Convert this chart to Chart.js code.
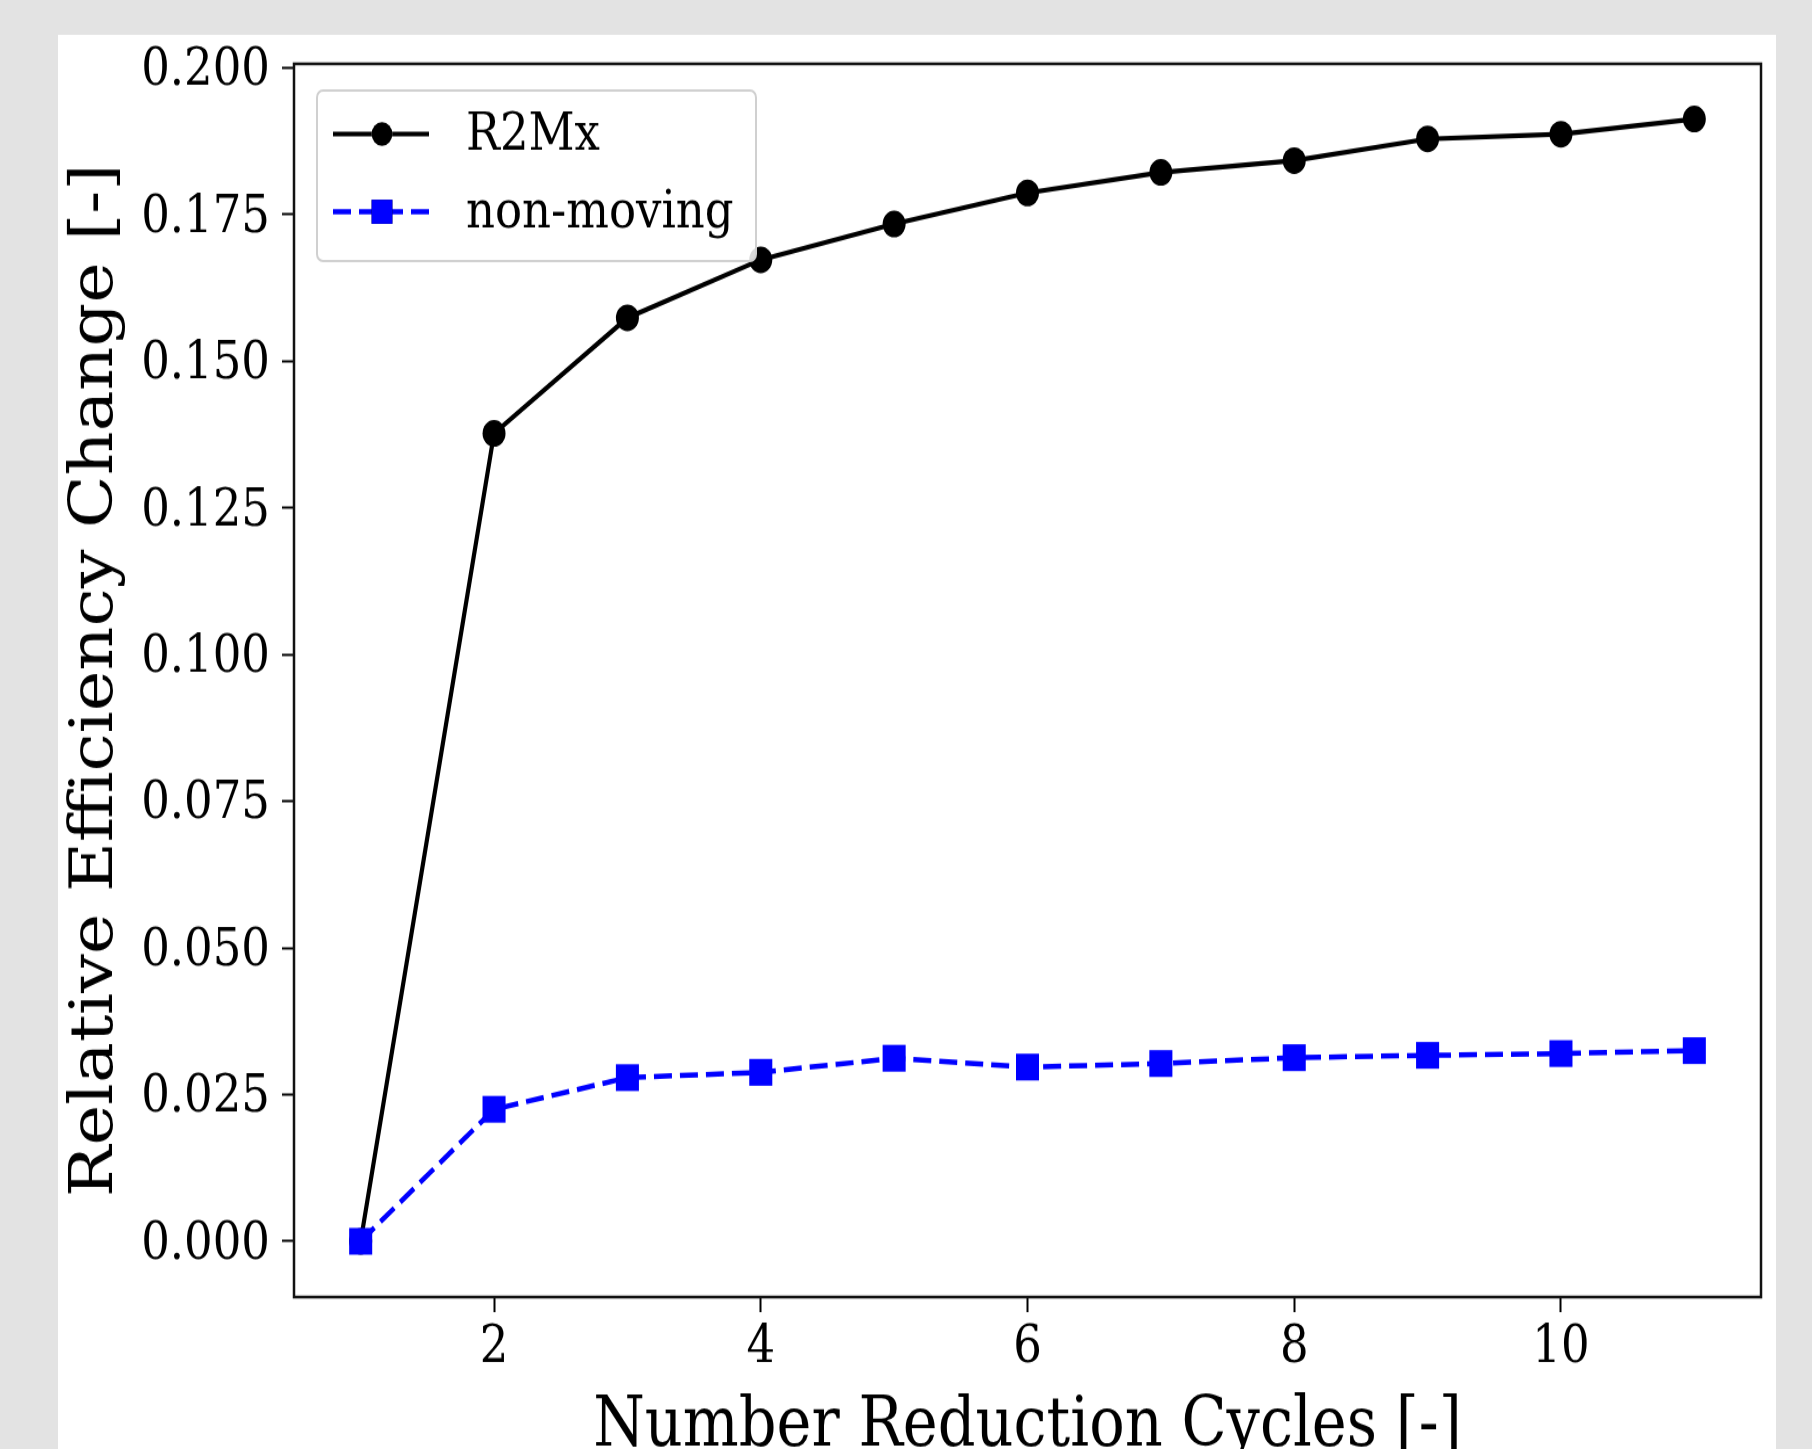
<!DOCTYPE html>
<html>
<head>
<meta charset="utf-8">
<title>Relative Efficiency Change</title>
<script src="https://cdn.jsdelivr.net/npm/chart.js@4.4.0/dist/chart.umd.min.js"></script>
<style>
  html, body { margin: 0; padding: 0; background: #e3e3e3; overflow: hidden; }
  #wrap { width: 1812px; height: 1449px; }
  /* the reference figure is stretched vertically: draw at 1249 px, show at 1449 px */
  #myChart { width: 1812px; height: 1449px; display: block; }
</style>
</head>
<body>
<div id="wrap"><canvas id="myChart" width="1812" height="1249" style="width:1812px;height:1449px"></canvas></div>
<script>

// data
var cycles = [1, 2, 3, 4, 5, 6, 7, 8, 9, 10, 11];
var r2mx = [0.0, 0.1377, 0.1574, 0.1673, 0.1734, 0.1787, 0.1822, 0.1842, 0.1879, 0.1887, 0.1913];
var nonMoving = [0.0, 0.0225, 0.0279, 0.0288, 0.0312, 0.0297, 0.0303, 0.0313, 0.0317, 0.0320, 0.0325];
var xTicks = [2, 4, 6, 8, 10];
var yTicks = [0, 0.025, 0.05, 0.075, 0.1, 0.125, 0.15, 0.175, 0.2];

var FONT = "'DejaVu Serif', serif";

function toPoints(xs, ys) {
    var pts = [];
    for (var i = 0; i < xs.length; i++) {
        pts.push({ x: xs[i], y: ys[i] });
    }
    return pts;
}

// grey page + white figure
var backgroundPlugin = {
    id: 'figBg',
    beforeDraw: function(chart) {
        var ctx = chart.ctx;
        ctx.save();
        ctx.fillStyle = '#e3e3e3';
        ctx.fillRect(0, 0, chart.width, chart.height);
        ctx.fillStyle = '#ffffff';
        ctx.fillRect(58, 30, 1718, chart.height - 30);
        ctx.restore();
    }
};

// box round the axes, then the legend on top
var framePlugin = {
    id: 'frameLegend',
    afterDatasetsDraw: function(chart) {
        var ctx = chart.ctx;
        var a = chart.chartArea;
        ctx.save();
        ctx.strokeStyle = '#111';
        ctx.lineWidth = 2.5;
        ctx.strokeRect(a.left, a.top, a.right - a.left, a.bottom - a.top);

        // legend box
        var bx = 317, by = 78, bw = 439, bh = 147, r = 6;
        ctx.beginPath();
        ctx.moveTo(bx + r, by);
        ctx.arcTo(bx + bw, by, bx + bw, by + bh, r);
        ctx.arcTo(bx + bw, by + bh, bx, by + bh, r);
        ctx.arcTo(bx, by + bh, bx, by, r);
        ctx.arcTo(bx, by, bx + bw, by, r);
        ctx.closePath();
        ctx.fillStyle = 'rgba(255,255,255,0.85)';
        ctx.fill();
        ctx.strokeStyle = '#d0d0d0';
        ctx.lineWidth = 2;
        ctx.stroke();

        var rows = [115.5, 182.5];
        chart.data.datasets.forEach(function(ds, i) {
            var y = rows[i];
            ctx.strokeStyle = ds.borderColor;
            ctx.lineWidth = ds.borderWidth;
            ctx.setLineDash(ds.borderDash || []);
            ctx.beginPath();
            ctx.moveTo(333, y);
            ctx.lineTo(429, y);
            ctx.stroke();
            ctx.setLineDash([]);
            Chart.helpers.drawPoint(ctx, {
                pointStyle: ds.pointStyle,
                radius: ds.pointRadius * 0.9,
                borderWidth: 0
            }, 382, y);
            ctx.fillStyle = ds.pointBackgroundColor;
            ctx.fill();

            ctx.fillStyle = '#000';
            ctx.font = '45px ' + FONT;
            ctx.textBaseline = 'middle';
            ctx.textAlign = 'left';
            ctx.fillText(ds.label, 466, y + 2);
        });
        ctx.restore();
    }
};

var ctx = document.getElementById('myChart').getContext('2d');

var chart = new Chart(ctx, {
    type: 'line',
    data: {
        datasets: [{
                label: 'R2Mx',
                data: toPoints(cycles, r2mx),
                borderColor: '#000000',
                backgroundColor: '#000000',
                pointBackgroundColor: '#000000',
                pointBorderColor: '#000000',
                borderWidth: 4.2,
                pointStyle: 'circle',
                pointRadius: 11.5,
                pointBorderWidth: 0,
                fill: false,
                tension: 0,
                order: 1
            },
            {
                label: 'non-moving',
                data: toPoints(cycles, nonMoving),
                borderColor: '#0000ff',
                backgroundColor: '#0000ff',
                pointBackgroundColor: '#0000ff',
                pointBorderColor: '#0000ff',
                borderWidth: 4.5,
                borderDash: [18, 8],
                pointStyle: 'rect',
                pointRadius: 16.3,
                pointBorderWidth: 0,
                fill: false,
                tension: 0,
                order: 0
            }
        ]
    },
    options: {
        responsive: false,
        maintainAspectRatio: false,
        animation: false,
        devicePixelRatio: 1,
        events: [],
        layout: {
            padding: { left: 61, top: 55, right: 51, bottom: 0 }
        },
        plugins: {
            legend: { display: false },
            tooltip: { enabled: false }
        },
        scales: {
            x: {
                type: 'linear',
                min: 0.5,
                max: 11.5,
                afterBuildTicks: function(scale) {
                    scale.ticks = xTicks.map(function(v) { return { value: v }; });
                },
                afterFit: function(scale) {
                    scale.height = 131;
                },
                border: { display: false },
                grid: {
                    drawOnChartArea: false,
                    drawTicks: true,
                    tickLength: 13,
                    tickWidth: 2,
                    tickColor: '#000'
                },
                ticks: {
                    color: '#000',
                    padding: 4,
                    maxRotation: 0,
                    font: { family: FONT, size: 45 },
                    callback: function(v) { return String(v); }
                },
                title: {
                    display: true,
                    text: 'Number Reduction Cycles [-]',
                    color: '#000',
                    font: { family: FONT, size: 59 },
                    padding: { top: 0, bottom: -17 }
                }
            },
            y: {
                type: 'linear',
                min: -0.0095,
                max: 0.2007,
                afterBuildTicks: function(scale) {
                    scale.ticks = yTicks.map(function(v) { return { value: v }; });
                },
                afterFit: function(scale) {
                    scale.width = 233;
                },
                border: { display: false },
                grid: {
                    drawOnChartArea: false,
                    drawTicks: true,
                    tickLength: 12,
                    tickWidth: 2,
                    tickColor: '#000'
                },
                ticks: {
                    color: '#000',
                    padding: 12,
                    labelOffset: 3,
                    font: { family: FONT, size: 45 },
                    callback: function(v) { return v.toFixed(3); }
                },
                title: {
                    display: true,
                    text: 'Relative Efficiency Change [-]',
                    color: '#000',
                    font: { family: FONT, size: 59 },
                    padding: { top: 0, bottom: 0 }
                }
            }
        }
    },
    plugins: [backgroundPlugin, framePlugin]
});
</script>
</body>
</html>
